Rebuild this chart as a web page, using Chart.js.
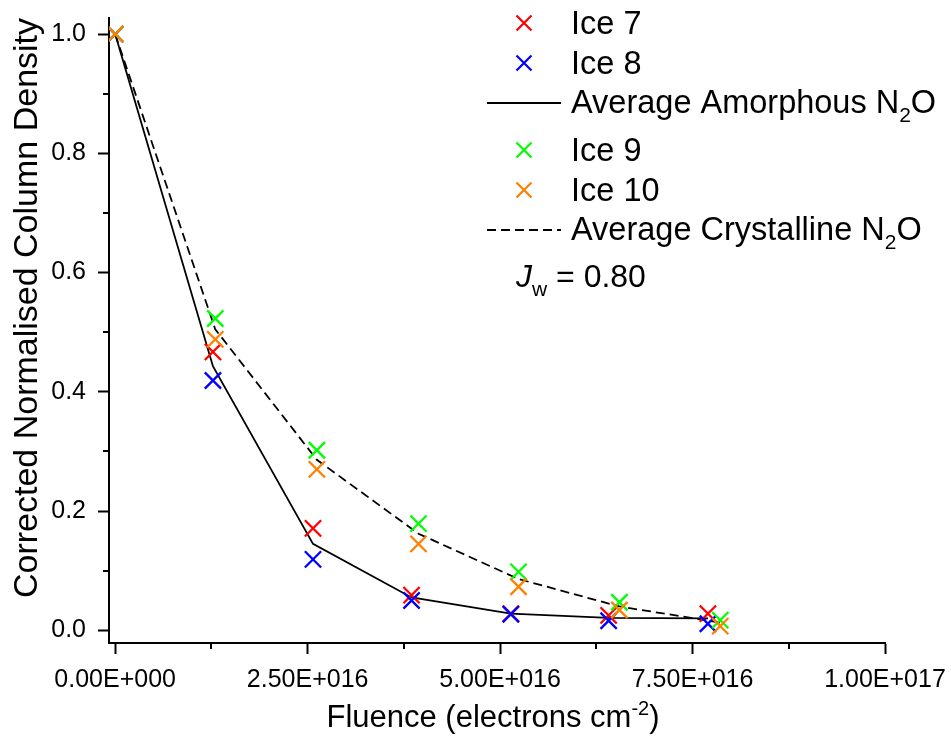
<!DOCTYPE html>
<html>
<head>
<meta charset="utf-8">
<script src="https://cdn.jsdelivr.net/npm/chart.js@4.4.1/dist/chart.umd.min.js"></script>
<style>
  html, body { margin: 0; padding: 0; background: #fff; }
</style>
</head>
<body>
<canvas id="myChart" width="951" height="746"></canvas>
<script>
// values
const fluenceAmorph = [0, 1.27e16, 2.57e16, 3.85e16, 5.14e16, 6.41e16, 7.70e16];
const fluenceCryst = [0, 1.30e16, 2.62e16, 3.94e16, 5.24e16, 6.55e16, 7.86e16];
const ice7 = [1.0, 0.467, 0.171, 0.059, 0.028, 0.025, 0.028];
const ice8 = [1.0, 0.419, 0.119, 0.050, 0.027, 0.016, 0.011];
const ice9 = [1.0, 0.523, 0.302, 0.179, 0.098, 0.047, 0.017];
const ice10 = [1.0, 0.488, 0.270, 0.145, 0.073, 0.034, 0.007];
const avgAmorph = [1.0, 0.443, 0.145, 0.055, 0.028, 0.021, 0.020];
const avgCryst = [1.0, 0.505, 0.286, 0.162, 0.086, 0.040, 0.013];

const xTickValues = [0, 2.5e16, 5e16, 7.5e16, 1e17];
const xTickLabels = ["0.00E+000", "2.50E+016", "5.00E+016", "7.50E+016", "1.00E+017"];
const xMinorTicks = [1.25e16, 3.75e16, 6.25e16, 8.75e16];
const yTickValues = [0, 0.2, 0.4, 0.6, 0.8, 1.0];
const yTickLabels = ["0.0", "0.2", "0.4", "0.6", "0.8", "1.0"];
const yMinorTicks = [0.1, 0.3, 0.5, 0.7, 0.9];

const FONT = "'Liberation Sans', Arial, sans-serif";

function pts(xs, ys) {
  return xs.map((x, i) => ({ x: x, y: ys[i] }));
}

//draws a line of text made of normal / sub / sup / italic parts
function drawRich(ctx, parts, x, y, size, align) {
  const fontFor = (k) => (k === "it" ? "italic " : "") + (k === "sub" || k === "sup" ? Math.round(size * 0.65) : size) + "px " + FONT;
  let w = 0;
  parts.forEach((p) => { ctx.font = fontFor(p[1]); w += ctx.measureText(p[0]).width; });
  let cx = align === "center" ? x - w / 2 : x;
  parts.forEach((p) => {
    ctx.font = fontFor(p[1]);
    const dy = p[1] === "sub" ? size * 0.28 : p[1] === "sup" ? -size * 0.4 : 0;
    ctx.fillText(p[0], cx, y + dy);
    cx += ctx.measureText(p[0]).width;
  });
}

function drawCross(ctx, x, y, r, color) {
  ctx.save();
  ctx.strokeStyle = color;
  ctx.lineWidth = 2.2;
  ctx.beginPath();
  ctx.moveTo(x - r, y - r); ctx.lineTo(x + r, y + r);
  ctx.moveTo(x + r, y - r); ctx.lineTo(x - r, y + r);
  ctx.stroke();
  ctx.restore();
}

const extras = {
  id: "extras",
  afterDraw(chart) {
    const ctx = chart.ctx;
    const area = chart.chartArea;
    const xs = chart.scales.x, ys = chart.scales.y;
    ctx.save();
    ctx.strokeStyle = "#000";
    ctx.lineWidth = 2;
    ctx.beginPath();
    //minor ticks
    xMinorTicks.forEach((v) => {
      const px = Math.round(xs.getPixelForValue(v));
      ctx.moveTo(px, area.bottom); ctx.lineTo(px, area.bottom + 6);
    });
    yMinorTicks.forEach((v) => {
      const py = Math.round(ys.getPixelForValue(v));
      ctx.moveTo(area.left, py); ctx.lineTo(area.left - 6, py);
    });
    ctx.stroke();

    ctx.fillStyle = "#000";
    ctx.textBaseline = "alphabetic";
    //axis titles
    drawRich(ctx, [["Fluence (electrons cm", ""], ["-2", "sup"], [")", ""]], (area.left + area.right) / 2 - 4, 727, 31, "center");
    ctx.save();
    ctx.translate(37, 308);
    ctx.rotate(-Math.PI / 2);
    ctx.textAlign = "center";
    ctx.font = "34px " + FONT;
    ctx.fillText("Corrected Normalised Column Density", 0, 0);
    ctx.restore();

    //legend
    const lx = 524, tx = 571;
    const ds = chart.data.datasets;
    const rows = [
      { kind: "pt", color: ds[0].borderColor, label: [[ds[0].label, ""]], y: 34 },
      { kind: "pt", color: ds[1].borderColor, label: [[ds[1].label, ""]], y: 74 },
      { kind: "line", dash: [], label: [["Average Amorphous N", ""], ["2", "sub"], ["O", ""]], y: 113 },
      { kind: "pt", color: ds[3].borderColor, label: [[ds[3].label, ""]], y: 161 },
      { kind: "pt", color: ds[4].borderColor, label: [[ds[4].label, ""]], y: 201 },
      { kind: "line", dash: [9, 5], label: [["Average Crystalline N", ""], ["2", "sub"], ["O", ""]], y: 240 },
    ];
    rows.forEach((r) => {
      if (r.kind === "pt") {
        drawCross(ctx, lx, r.y - 11, 7.5, r.color);
      } else {
        ctx.save();
        ctx.strokeStyle = "#000";
        ctx.lineWidth = 1.8;
        ctx.setLineDash(r.dash);
        ctx.beginPath();
        ctx.moveTo(487, r.y - 10); ctx.lineTo(561, r.y - 10);
        ctx.stroke();
        ctx.restore();
      }
      ctx.fillStyle = "#000";
      drawRich(ctx, r.label, tx, r.y, 32.5, "left");
    });
    drawRich(ctx, [["J", "it"], ["w", "sub"], [" = 0.80", ""]], 516, 287, 32, "left");
    ctx.restore();
  },
};

const crossSet = (label, xs, ys, color, order) => ({
  label: label,
  data: pts(xs, ys),
  borderColor: color,
  backgroundColor: color,
  pointStyle: "crossRot",
  pointRadius: 11.5,
  pointHoverRadius: 11.5,
  pointBorderWidth: 2.3,
  showLine: false,
  order: order,
});

new Chart("myChart", {
  type: "scatter",
  data: {
    datasets: [
      crossSet("Ice 7", fluenceAmorph, ice7, "#ff0000", 4),
      crossSet("Ice 8", fluenceAmorph, ice8, "#0000ff", 3),
      {
        label: "Average Amorphous N2O",
        data: pts(fluenceAmorph, avgAmorph),
        borderColor: "#000",
        borderWidth: 1.8,
        pointRadius: 0,
        showLine: true,
        order: 5,
      },
      crossSet("Ice 9", fluenceCryst, ice9, "#00ff00", 2),
      crossSet("Ice 10", fluenceCryst, ice10, "#ff8000", 1),
      {
        label: "Average Crystalline N2O",
        data: pts(fluenceCryst, avgCryst),
        borderColor: "#000",
        borderWidth: 1.8,
        borderDash: [9, 5],
        pointRadius: 0,
        showLine: true,
        order: 6,
      },
    ],
  },
  options: {
    responsive: false,
    animation: false,
    devicePixelRatio: 1,
    layout: { padding: { left: 0, right: 66, top: 18, bottom: 0 } },
    plugins: { legend: { display: false }, tooltip: { enabled: false } },
    scales: {
      x: {
        type: "linear",
        min: -8e14,
        max: 1e17,
        afterFit: (s) => { s.height = 103; s.paddingLeft = 0; s.paddingRight = 0; },
        afterBuildTicks: (s) => { s.ticks = xTickValues.map((v) => ({ value: v })); },
        ticks: {
          callback: (v, i) => xTickLabels[i],
          font: { size: 25, family: FONT },
          color: "#000",
          padding: 11,
          maxRotation: 0,
          autoSkip: false,
        },
        grid: { display: true, drawOnChartArea: false, drawTicks: true, tickLength: 11, tickWidth: 2, tickColor: "#000" },
        border: { display: true, color: "#000", width: 2 },
      },
      y: {
        min: -0.0213,
        max: 1.027,
        afterFit: (s) => { s.width = 109; s.paddingTop = 0; s.paddingBottom = 0; },
        afterBuildTicks: (s) => { s.ticks = yTickValues.map((v) => ({ value: v })); },
        ticks: {
          callback: (v, i) => yTickLabels[i],
          font: { size: 25, family: FONT },
          color: "#000",
          padding: 12,
        },
        grid: { display: true, drawOnChartArea: false, drawTicks: true, tickLength: 11, tickWidth: 2, tickColor: "#000" },
        border: { display: true, color: "#000", width: 2 },
      },
    },
  },
  plugins: [extras],
});
</script>
</body>
</html>
